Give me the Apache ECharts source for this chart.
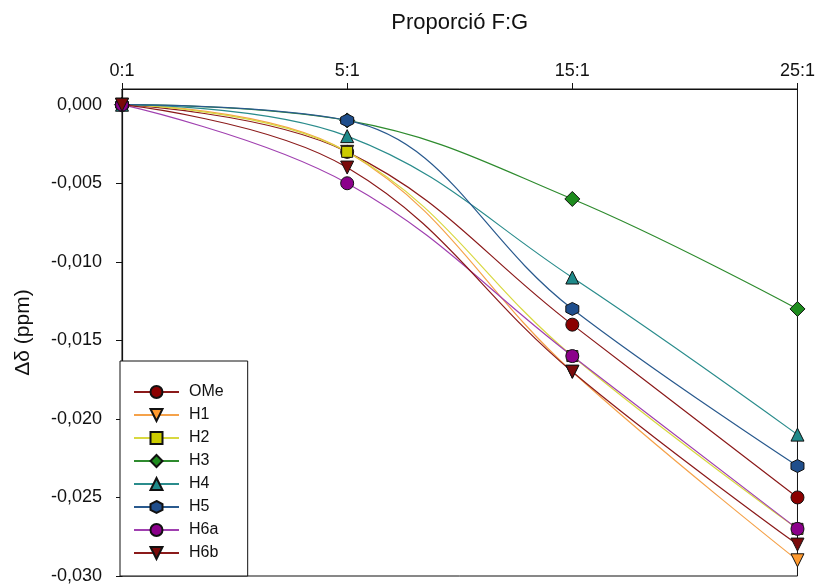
<!DOCTYPE html>
<html>
<head>
<meta charset="utf-8">
<script src="https://cdn.jsdelivr.net/npm/echarts@6/dist/echarts.min.js"></script>
<style>html,body{margin:0;padding:0;background:#fff}#c{width:818px;height:588px}</style>
</head>
<body>
<div id="c"></div>
<script>
var categories = ['0:1', '5:1', '15:1', '25:1'];
var seriesNames = ['OMe', 'H1', 'H2', 'H3', 'H4', 'H5', 'H6a', 'H6b'];
var OMe = [0, -0.003, -0.014, -0.025];
var H1  = [0, -0.003, -0.017, -0.029];
var H2  = [0, -0.003, -0.016, -0.027];
var H3  = [0, -0.001, -0.006, -0.013];
var H4  = [0, -0.002, -0.011, -0.021];
var H5  = [0, -0.001, -0.013, -0.023];
var H6a = [0, -0.005, -0.016, -0.027];
var H6b = [0, -0.004, -0.017, -0.028];
var values = [OMe, H1, H2, H3, H4, H5, H6a, H6b];

var hex = 'path://M0,-10L8.66,-5L8.66,5L0,10L-8.66,5L-8.66,-5Z';
var styles = [
  {fill: '#8B0000', line: '#8B1A1A', symbol: 'circle', size: 13, rot: 0},
  {fill: '#FF9A2E', line: '#F5A24A', symbol: 'triangle', size: 13, rot: 180},
  {fill: '#CCCC00', line: '#D8D840', symbol: 'rect', size: 11, rot: 0},
  {fill: '#1E8C1E', line: '#2E8B2E', symbol: 'diamond', size: 15, rot: 0},
  {fill: '#1F8A8A', line: '#2A8C8C', symbol: 'triangle', size: 13, rot: 0},
  {fill: '#1F4E8C', line: '#2A5A8E', symbol: hex, size: 13, rot: 0},
  {fill: '#8B008B', line: '#A040B0', symbol: 'circle', size: 13, rot: 0},
  {fill: '#7A0A0A', line: '#8B1A1A', symbol: 'triangle', size: 13, rot: 180}
];

var series = seriesNames.map(function (n, i) {
  var s = styles[i];
  return {
    name: n, type: 'line', data: values[i], smooth: 0.4,
    symbol: s.symbol, symbolSize: s.size, symbolRotate: s.rot,
    itemStyle: {color: s.fill, borderColor: '#111', borderWidth: 1},
    lineStyle: {color: s.line, width: 1.2},
    emphasis: {disabled: true}
  };
});

var chart = echarts.init(document.getElementById('c'));
chart.setOption({
  animation: false,
  textStyle: {fontFamily: 'Liberation Sans, Arial, sans-serif'},
  grid: {left: 122, right: 20, top: 89, bottom: 12, show: true, borderColor: '#111', borderWidth: 1, backgroundColor: 'transparent'},
  xAxis: {
    type: 'category', data: categories, position: 'top', boundaryGap: false,
    name: 'Proporció F:G', nameLocation: 'middle', nameGap: 55,
    nameTextStyle: {fontSize: 22, color: '#111'},
    axisLine: {onZero: false, lineStyle: {color: '#111', width: 1.2}},
    axisTick: {alignWithLabel: true, length: 6, lineStyle: {color: '#111'}},
    axisLabel: {fontSize: 18, color: '#111', margin: 9},
    splitLine: {show: false}
  },
  yAxis: {
    type: 'value', min: -0.030, max: 0.001, interval: 0.005,
    name: 'Δδ (ppm)', nameLocation: 'middle', nameGap: 88, nameRotate: 90,
    nameTextStyle: {fontSize: 21, color: '#111'},
    axisLine: {show: true, onZero: false, lineStyle: {color: '#111', width: 1.2}},
    axisTick: {show: true, length: 6, lineStyle: {color: '#111'}},
    axisLabel: {fontSize: 18, color: '#111', margin: 20, showMaxLabel: false,
      formatter: function (v) { if (v > 0.0005) return ''; return v.toFixed(3).replace('.', ','); }},
    splitLine: {show: false}
  },
  legend: {
    data: seriesNames, orient: 'vertical', left: 120, top: 361,
    itemWidth: 45, itemHeight: 15, itemGap: 7,
    padding: [23, 24, 15, 13],
    backgroundColor: '#fff', borderColor: '#111', borderWidth: 1,
    textStyle: {fontSize: 16, lineHeight: 16, color: '#111', padding: [0, 0, 0, 5]}
  },
  series: series
});
</script>
</body>
</html>
